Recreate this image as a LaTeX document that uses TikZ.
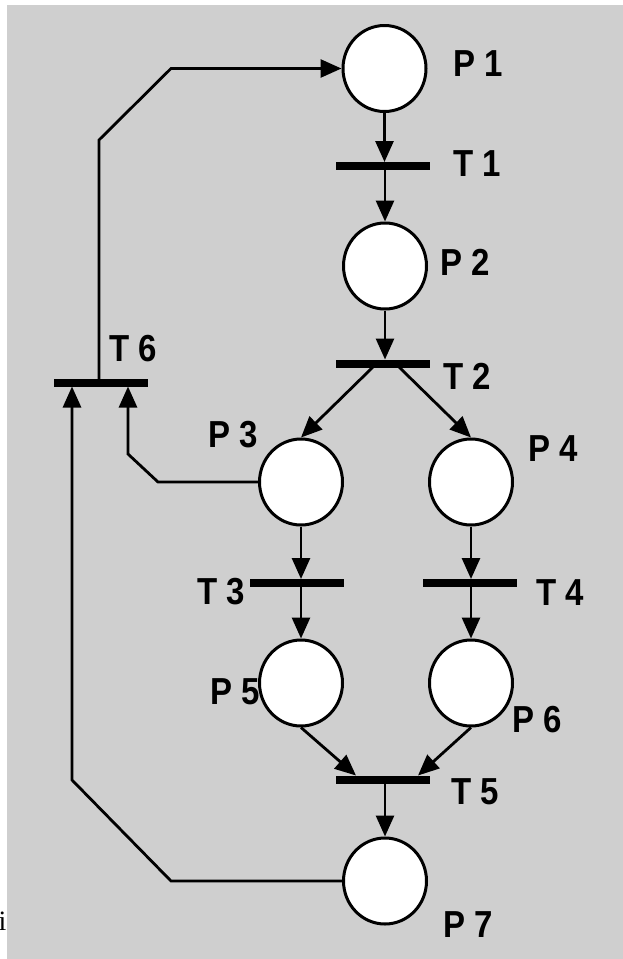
\documentclass[tikz,border=0pt]{standalone}
\usepackage{fontspec}
\setmainfont{Liberation Sans}
\newfontfamily\serifi{Liberation Serif}
\usetikzlibrary{arrows.meta,shapes.geometric}
\definecolor{panel}{RGB}{207,207,207}
\newcommand{\tallbold}[1]{\scalebox{1}[1.14]{#1}}
\begin{document}
\begin{tikzpicture}[x=1pt,y=-1pt,
  place/.style={ellipse,draw,line width=3pt,fill=white,minimum width=83pt,minimum height=86pt,inner sep=0pt},
  bar/.style={rectangle,fill=black,minimum width=94pt,minimum height=8pt,inner sep=0pt,outer sep=0pt},
  lbl/.style={font=\fontsize{33}{33}\bfseries\selectfont,inner sep=0pt},
  arc/.style={line width=2.8pt,-{Triangle[length=21pt,width=18pt]}}]
\useasboundingbox (0,0) rectangle (623,959);
\fill[white] (0,0) rectangle (623,959);
\node[anchor=base west,inner sep=0pt,font=\serifi\fontsize{28}{28}\selectfont] (stray) at (-1.5,930) {i};
\fill[panel] (7,5) rectangle (623,959);

% places
\node[place] (P1) at (384.5,68.5) {};
\node[place] (P2) at (385,266) {};
\node[place] (P3) at (301,482) {};
\node[place] (P4) at (471,482) {};
\node[place] (P5) at (301,683) {};
\node[place] (P6) at (471,683) {};
\node[place] (P7) at (385,881) {};

% transitions
\node[bar] (T1) at (383,166) {};
\node[bar] (T2) at (383,363.5) {};
\node[bar] (T3) at (296.5,583) {};
\node[bar] (T4) at (469.5,583) {};
\node[bar] (T5) at (383,779.5) {};
\node[bar] (T6) at (100.5,382.5) {};

% labels
\node[lbl] (lP1) at (478,64) {\tallbold{P 1}};
\node[lbl] (lT1) at (477,164) {\tallbold{T 1}};
\node[lbl] (lP2) at (465,262) {\tallbold{P 2}};
\node[lbl] (lT2) at (467,376) {\tallbold{T 2}};
\node[lbl] (lT6) at (133,349) {\tallbold{T 6}};
\node[lbl] (lP3) at (233,435) {\tallbold{P 3}};
\node[lbl] (lP4) at (553,449) {\tallbold{P 4}};
\node[lbl] (lT3) at (221,592) {\tallbold{T 3}};
\node[lbl] (lT4) at (560,593) {\tallbold{T 4}};
\node[lbl] (lP5) at (235,692) {\tallbold{P 5}};
\node[lbl] (lP6) at (537,720) {\tallbold{P 6}};
\node[lbl] (lT5) at (475,792) {\tallbold{T 5}};
\node[lbl] (lP7) at (468,925) {\tallbold{P 7}};

% helper points for bends and off-centre bar contacts
\coordinate (t2l) at (373,367);
\coordinate (t2r) at (399,367);
\coordinate (t5l) at (356,775.5);
\coordinate (t5r) at (418,775.5);
\coordinate (t6up) at (99,379);
\coordinate (k1) at (99,140);
\coordinate (k2) at (171,68.5);
\coordinate (j1) at (158,482);
\coordinate (j2) at (128,454);
\coordinate (m1) at (171,881);
\coordinate (m2) at (72,780);

% arcs of the net
\draw[arc] (P1.south) -- (P1.south |- T1.north);
\draw[arc] (P2.north |- T1.south) -- (P2.north);
\draw[arc] (P2.south) -- (P2.south |- T2.north);
\draw[arc] (t2l) -- (P3.north);
\draw[arc] (t2r) -- (P4.north);
\draw[arc] (P3.south) -- (P3.south |- T3.north);
\draw[arc] (P5.north |- T3.south) -- (P5.north);
\draw[arc] (P4.south) -- (P4.south |- T4.north);
\draw[arc] (P6.north |- T4.south) -- (P6.north);
\draw[arc] (P5.south) -- (t5l);
\draw[arc] (P6.south) -- (t5r);
\draw[arc] (P7.north |- T5.south) -- (P7.north);
\draw[arc] (t6up) -- (k1) -- (k2) -- (P1.west);
\draw[arc] (P3.west) -- (j1) -- (j2) -- (j2 |- T6.south);
\draw[arc] (P7.west) -- (m1) -- (m2) -- (m2 |- T6.south);
\end{tikzpicture}
\end{document}
